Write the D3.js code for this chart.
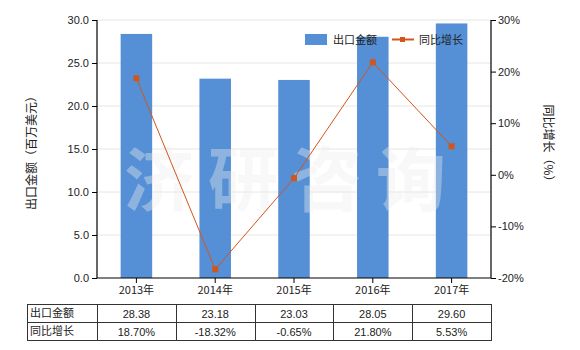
<!DOCTYPE html>
<html>
<head>
<meta charset="utf-8">
<script src="https://cdn.jsdelivr.net/npm/d3@7"></script>
<style>
  body { margin: 0; background: #fff; }
  svg { display: block; }
  text { font-family: "Liberation Sans", "Noto Sans CJK SC", sans-serif; fill: #222; }
</style>
</head>
<body>
<svg id="chart" width="580" height="350"></svg>
<script>
// Export value (million USD) and year-on-year growth (%) by year
const years = ["2013年", "2014年", "2015年", "2016年", "2017年"];
const exportValue = [28.38, 23.18, 23.03, 28.05, 29.60];
const growth = [18.70, -18.32, -0.65, 21.80, 5.53];
const leftTicks = [0, 5, 10, 15, 20, 25, 30];
const rightTicks = [-20, -10, 0, 10, 20, 30];

const svg = d3.select("#chart");
const plot = { left: 97, right: 491, top: 20, bottom: 278 };
const barColor = "#5590d6";
const lineColor = "#d0561c";
const cjk = '"Noto Sans CJK SC", "Liberation Sans", sans-serif';

const x = d3.scaleBand().domain(years).range([plot.left, plot.right]).paddingInner(0).paddingOuter(0);
const y = d3.scaleLinear().domain([0, 30]).range([plot.bottom, plot.top]);
const y2 = d3.scaleLinear().domain([-20, 30]).range([plot.bottom, plot.top]);

// horizontal gridlines
svg.append("g")
  .selectAll("line")
  .data(leftTicks.filter(d => d > 0))
  .join("line")
  .attr("x1", plot.left).attr("x2", plot.right)
  .attr("y1", d => y(d)).attr("y2", d => y(d))
  .attr("stroke", "#e6e6de").attr("stroke-width", 1);

// bars
const barW = x.bandwidth() * 0.4;
svg.append("g")
  .selectAll("rect")
  .data(exportValue)
  .join("rect")
  .attr("x", (d, i) => x(years[i]) + x.bandwidth() / 2 - barW / 2)
  .attr("y", d => y(d))
  .attr("width", barW)
  .attr("height", d => y(0) - y(d))
  .attr("fill", barColor);

// watermark
svg.append("text")
  .attr("x", (plot.left + plot.right) / 2 - 2)
  .attr("y", 206)
  .attr("text-anchor", "middle")
  .style("font-family", cjk)
  .style("font-size", "70px")
  .style("font-weight", "bold")
  .style("letter-spacing", "14px")
  .style("fill", "#ececec")
  .style("fill-opacity", 0.38)
  .text("济研咨询");

// growth line
const line = d3.line()
  .x((d, i) => x(years[i]) + x.bandwidth() / 2)
  .y(d => y2(d));
svg.append("path")
  .datum(growth)
  .attr("d", line)
  .attr("fill", "none")
  .attr("stroke", lineColor)
  .attr("stroke-width", 1);
svg.append("g")
  .selectAll("rect")
  .data(growth)
  .join("rect")
  .attr("x", (d, i) => x(years[i]) + x.bandwidth() / 2 - 3)
  .attr("y", d => y2(d) - 3)
  .attr("width", 6).attr("height", 6)
  .attr("fill", lineColor);

// axes
const leftAxis = d3.axisLeft(y).tickValues(leftTicks).tickFormat(d3.format(".1f")).tickSize(5).tickPadding(3);
const gl = svg.append("g").attr("transform", `translate(${plot.left},0)`).call(leftAxis);
const rightAxis = d3.axisRight(y2).tickValues(rightTicks).tickFormat(d => d + "%").tickSize(5).tickPadding(2);
const gr = svg.append("g").attr("transform", `translate(${plot.right},0)`).call(rightAxis);
const bottomAxis = d3.axisBottom(x).tickSize(5).tickPadding(3);
const gb = svg.append("g").attr("transform", `translate(0,${plot.bottom})`).call(bottomAxis);
[gl, gr, gb].forEach(g => {
  g.selectAll(".domain").attr("stroke", "#000").attr("stroke-width", 1.2);
  g.selectAll(".tick line").attr("stroke", "#000");
  g.selectAll(".tick text").style("font-size", "11px").style("fill", "#222");
});
gl.select(".domain").attr("d", `M0,${plot.top}V${plot.bottom}`);
gr.select(".domain").attr("d", `M0,${plot.top}V${plot.bottom}`);
gb.select(".domain").attr("d", `M${plot.left},0H${plot.right}`);
gb.selectAll(".tick text").style("font-family", cjk);

// axis titles
svg.append("text")
  .attr("transform", "translate(36,150) rotate(-90)")
  .attr("text-anchor", "middle")
  .style("font-family", cjk).style("font-size", "12px")
  .text("出口金额（百万美元）");
svg.append("text")
  .attr("transform", "translate(544,146) rotate(90)")
  .attr("text-anchor", "middle")
  .style("font-family", cjk).style("font-size", "12px")
  .text("同比增长（%）");

// legend
const lg = svg.append("g");
lg.append("rect").attr("x", 305).attr("y", 34).attr("width", 22).attr("height", 11).attr("fill", barColor);
lg.append("text").attr("x", 333).attr("y", 44).style("font-family", cjk).style("font-size", "11px").text("出口金额");
lg.append("line").attr("x1", 392).attr("x2", 414).attr("y1", 39.5).attr("y2", 39.5).attr("stroke", lineColor).attr("stroke-width", 2);
lg.append("rect").attr("x", 400).attr("y", 37).attr("width", 5).attr("height", 5).attr("fill", lineColor);
lg.append("text").attr("x", 419).attr("y", 44).style("font-family", cjk).style("font-size", "11px").text("同比增长");

// data table
const tableTop = 304, rowH = 18, tableLeft = 27;
const rows = [
  { label: "出口金额", values: exportValue.map(d => d.toFixed(2)) },
  { label: "同比增长", values: growth.map(d => d.toFixed(2) + "%") }
];
const tg = svg.append("g");
tg.append("rect")
  .attr("x", tableLeft + 0.5).attr("y", tableTop + 0.5)
  .attr("width", plot.right - tableLeft).attr("height", rowH * 2)
  .attr("fill", "none").attr("stroke", "#333");
tg.append("line")
  .attr("x1", tableLeft).attr("x2", plot.right)
  .attr("y1", tableTop + rowH + 0.5).attr("y2", tableTop + rowH + 0.5)
  .attr("stroke", "#333");
tg.selectAll("line.col")
  .data(years)
  .join("line")
  .attr("class", "col")
  .attr("x1", d => Math.round(x(d)) + 0.5).attr("x2", d => Math.round(x(d)) + 0.5)
  .attr("y1", tableTop).attr("y2", tableTop + rowH * 2)
  .attr("stroke", "#333");
rows.forEach((r, ri) => {
  const ty = tableTop + ri * rowH + 13;
  tg.append("text").attr("x", tableLeft + 3).attr("y", ty)
    .style("font-family", cjk).style("font-size", "11px").text(r.label);
  tg.selectAll(null)
    .data(r.values)
    .join("text")
    .attr("x", (d, i) => x(years[i]) + x.bandwidth() / 2)
    .attr("y", ty + 1)
    .attr("text-anchor", "middle")
    .style("font-size", "11px")
    .text(d => d);
});
</script>
</body>
</html>
